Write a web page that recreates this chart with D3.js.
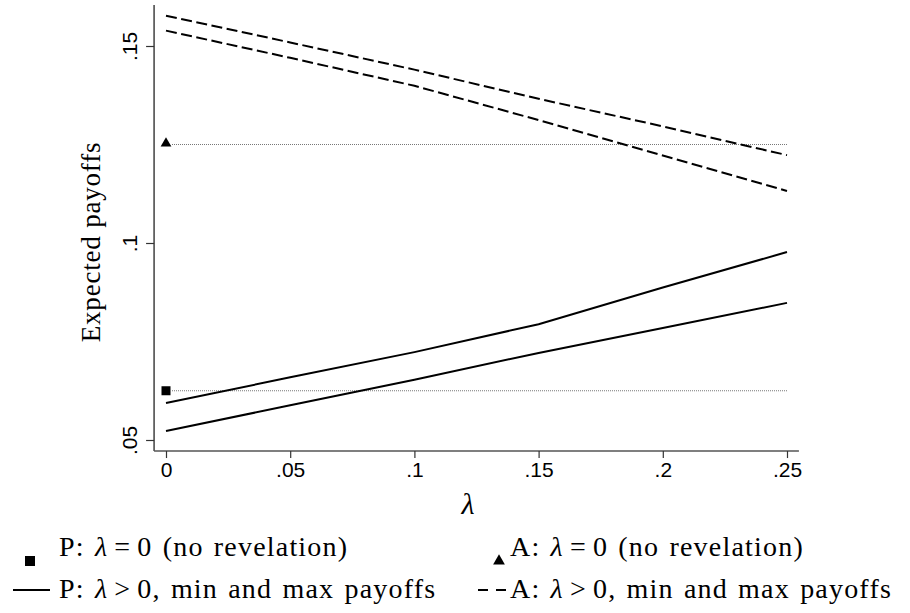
<html>
	<head>
		<meta content="text/html;charset=utf-8" http-equiv="Content-Type">
		<script src="https://d3js.org/d3.v7.min.js"></script>
		<style>
		body { margin: 0; background: white; }
		.serif { font-family: "Liberation Serif", "Times New Roman", serif; }
		</style>
	</head>
	<body>
		<svg id="page"></svg>
		<script>

		// data
		var lambdas = [0, 0.05, 0.1, 0.15, 0.2, 0.25];
		var pMax = [0.0594, 0.0659, 0.0723, 0.0794, 0.0887, 0.0977];
		var pMin = [0.0523, 0.0588, 0.0653, 0.0721, 0.0784, 0.0848];
		var aMax = [0.1577, 0.1509, 0.1440, 0.1366, 0.1296, 0.1223];
		var aMin = [0.1539, 0.1470, 0.1399, 0.1312, 0.1222, 0.1132];
		var pNoRev = 0.0625;
		var aNoRev = 0.125;
		var xTicks = [0, 0.05, 0.1, 0.15, 0.2, 0.25];
		var xTickLabels = ["0", ".05", ".1", ".15", ".2", ".25"];
		var yTicks = [0.05, 0.1, 0.15];
		var yTickLabels = [".05", ".1", ".15"];

		var svg = d3.select("#page").attr("width", 910).attr("height", 613);

		var x = d3.scaleLinear().domain([0, 0.25]).range([166, 787]);
		var y = d3.scaleLinear().domain([0.05, 0.15]).range([440, 46]);

		// axis lines (plot region a bit wider than data)
		var xLo = -0.0048, xHi = 0.2548, yLo = 0.0472, yHi = 0.1604;
		svg.append("line")
			.attr("x1", x(xLo)).attr("x2", x(xLo))
			.attr("y1", y(yLo)).attr("y2", y(yHi))
			.attr("stroke", "#333").attr("stroke-width", 1.4);
		svg.append("line")
			.attr("x1", x(xLo)).attr("x2", x(xHi))
			.attr("y1", y(yLo)).attr("y2", y(yLo))
			.attr("stroke", "#555").attr("stroke-width", 1.4);

		// x axis
		var gx = svg.append("g")
			.attr("transform", "translate(0," + y(yLo) + ")")
			.call(d3.axisBottom(x).tickValues(xTicks)
				.tickFormat(function(d, i){ return xTickLabels[i]; })
				.tickSize(7).tickPadding(4));
		gx.select(".domain").remove();
		gx.selectAll(".tick line").attr("stroke", "#333").attr("stroke-width", 1.2);

		// y axis, labels rotated
		var gy = svg.append("g")
			.attr("transform", "translate(" + x(xLo) + ",0)")
			.call(d3.axisLeft(y).tickValues(yTicks)
				.tickFormat(function(d, i){ return yTickLabels[i]; })
				.tickSize(8));
		gy.select(".domain").remove();
		gy.selectAll(".tick line").attr("stroke", "#333").attr("stroke-width", 1.2);
		gy.selectAll(".tick text")
			.attr("x", null).attr("dy", null)
			.attr("text-anchor", "middle")
			.attr("transform", "translate(-17,0) rotate(-90)");

		svg.selectAll(".tick text")
			.style("font-family", "'Liberation Sans', Arial, sans-serif")
			.style("font-size", "21px")
			.attr("fill", "black");

		// axis titles
		svg.append("text")
			.attr("class", "serif")
			.attr("transform", "translate(100," + 242 + ") rotate(-90)")
			.attr("text-anchor", "middle")
			.style("font-size", "27px")
			.style("letter-spacing", "0.8px")
			.text("Expected payoffs");
		svg.append("text")
			.attr("class", "serif")
			.attr("x", 468).attr("y", 514)
			.attr("text-anchor", "middle")
			.style("font-size", "30px")
			.style("font-style", "italic")
			.text("λ");

		// reference lines at no revelation
		[pNoRev, aNoRev].forEach(function(v){
			svg.append("line")
				.attr("x1", x(0) + 6).attr("x2", x(0.25))
				.attr("y1", y(v)).attr("y2", y(v))
				.attr("stroke", "#777").attr("stroke-width", 1)
				.attr("stroke-dasharray", "1,1");
		});

		// payoff lines
		var line = d3.line()
			.x(function(d, i){ return x(lambdas[i]); })
			.y(function(d){ return y(d); });
		[pMax, pMin].forEach(function(s){
			svg.append("path").attr("d", line(s))
				.attr("fill", "none").attr("stroke", "black").attr("stroke-width", 2);
		});
		[aMax, aMin].forEach(function(s){
			svg.append("path").attr("d", line(s))
				.attr("fill", "none").attr("stroke", "black").attr("stroke-width", 2)
				.attr("stroke-dasharray", "11,4.5");
		});

		// markers at lambda = 0
		svg.append("rect")
			.attr("x", x(0) - 4.5).attr("y", y(pNoRev) - 4.5)
			.attr("width", 9).attr("height", 9).attr("fill", "black");
		svg.append("path")
			.attr("d", d3.symbol().type(d3.symbolTriangle).size(50))
			.attr("transform", "translate(" + x(0) + "," + (y(aNoRev) - 1) + ")")
			.attr("fill", "black");

		// legend
		var leg = svg.append("g").attr("class", "serif")
			.style("font-size", "28px").style("letter-spacing", "1.2px")
			.style("word-spacing", "2px");
		function legText(tx, ty, who, op, rest){
			var t = leg.append("text").attr("x", tx).attr("y", ty);
			t.append("tspan").text(who + ": ");
			t.append("tspan").style("font-style", "italic").text("λ");
			t.append("tspan").attr("dx", 6).text(op);
			t.append("tspan").attr("dx", 6).text("0" + rest);
		}
		leg.append("rect").attr("x", 25).attr("y", 556).attr("width", 10).attr("height", 10).attr("fill", "black");
		legText(59, 556, "P", "=", " (no revelation)");
		leg.append("path")
			.attr("d", d3.symbol().type(d3.symbolTriangle).size(60))
			.attr("transform", "translate(499,561)")
			.attr("fill", "black");
		legText(510, 556, "A", "=", " (no revelation)");
		leg.append("line").attr("x1", 13).attr("x2", 50).attr("y1", 590).attr("y2", 590)
			.attr("stroke", "black").attr("stroke-width", 2);
		legText(59, 598, "P", ">", ", min and max payoffs");
		leg.append("line").attr("x1", 478).attr("x2", 506).attr("y1", 590).attr("y2", 590)
			.attr("stroke", "black").attr("stroke-width", 2)
			.attr("stroke-dasharray", "10,8");
		legText(510, 598, "A", ">", ", min and max payoffs");

		</script>
	</body>
</html>
